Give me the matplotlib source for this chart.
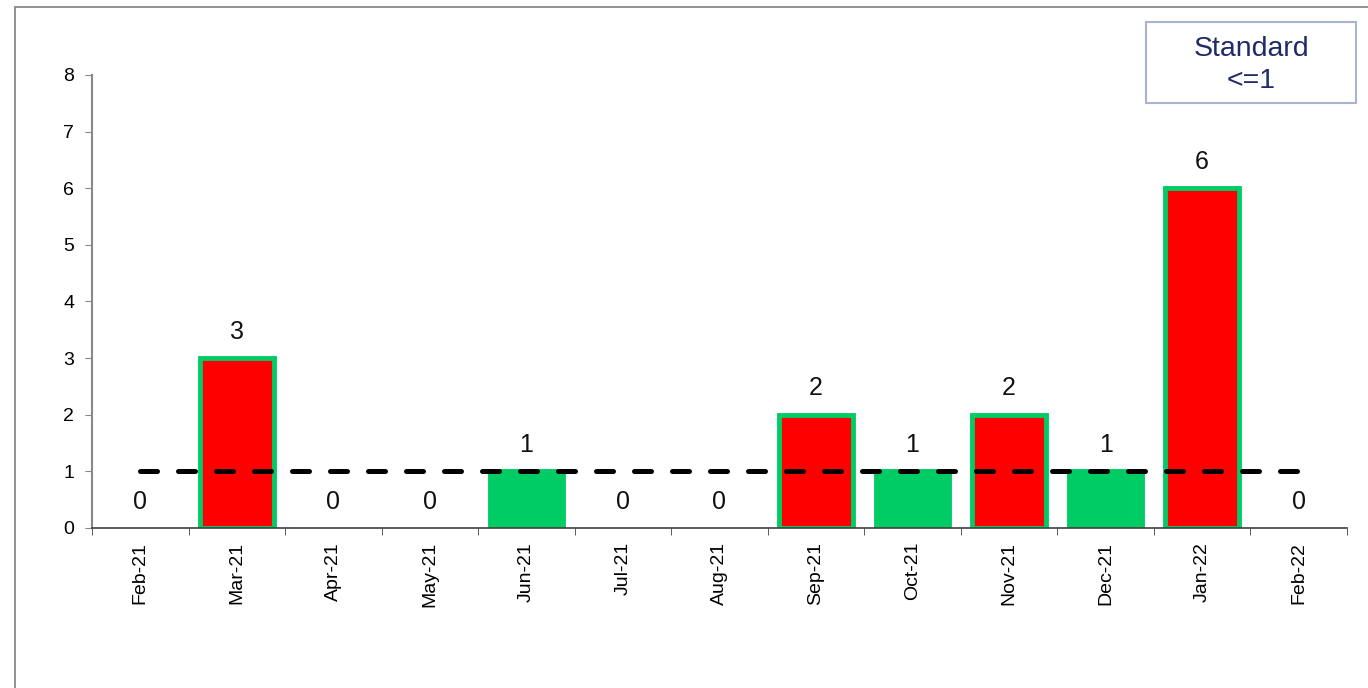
import matplotlib.pyplot as plt
from matplotlib.patches import Rectangle


MONTHS = ["Feb-21", "Mar-21", "Apr-21", "May-21", "Jun-21", "Jul-21", "Aug-21",
          "Sep-21", "Oct-21", "Nov-21", "Dec-21", "Jan-22", "Feb-22"]
COUNTS = [0, 3, 0, 0, 1, 0, 0, 2, 1, 2, 1, 6, 0]
STANDARD = 1

GREEN = "#00CC66"
RED = "#FF0000"

plt.rcParams["font.family"] = ["Liberation Sans", "DejaVu Sans"]


def main() -> None:
    fig = plt.figure(figsize=(13.68, 6.88), dpi=100)
    ax = fig.add_axes([0.0673, 0.2326, 0.9173, 0.6584])

    # outer frame of the pasted chart (cut at right/bottom)
    fig.patches.append(Rectangle((15 / 1368, -0.1), 1.2, 1 - 7 / 688 + 0.1,
                                 transform=fig.transFigure, fill=False,
                                 edgecolor="#7f7f7f", linewidth=1.2))

    x = list(range(len(MONTHS)))
    fills = [RED if v > STANDARD else GREEN for v in COUNTS]
    edges = [3.5 if v > 0 else 0 for v in COUNTS]  # no outline on empty months
    ax.bar(x, COUNTS, width=0.76, color=fills, edgecolor=GREEN,
           linewidth=edges, zorder=2)

    for xi, v in zip(x, COUNTS):
        ax.annotate(str(v), (xi, v), xytext=(0, 19), textcoords="offset points",
                    ha="center", va="center", fontsize=18, color="#111111")

    ax.plot([x[0], x[-1]], [STANDARD, STANDARD], color="black", linewidth=3.6,
            dashes=(3.4, 4.2), dash_capstyle="round", zorder=3)

    ax.set_xlim(-0.5, len(MONTHS) - 0.5)
    ax.set_ylim(0, 8)
    ax.set_yticks(range(0, 9))
    ax.set_xticks(x)
    ax.set_xticklabels(MONTHS, rotation=90, fontsize=14)
    ax.tick_params(axis="x", length=0, pad=10)
    ax.set_xticks([i - 0.5 for i in range(len(MONTHS) + 1)], minor=True)
    ax.tick_params(axis="x", which="minor", length=5, direction="out",
                   color="#404040")
    ax.tick_params(axis="y", length=5, direction="out", color="#888888",
                   labelsize=14, pad=8)

    for side in ("top", "right"):
        ax.spines[side].set_visible(False)
    ax.spines["left"].set_color("#888888")
    ax.spines["left"].set_linewidth(1.5)
    ax.spines["bottom"].set_color("#404040")
    ax.spines["bottom"].set_linewidth(1.2)

    # "Standard" box in the top right corner
    fig.patches.append(Rectangle((1146 / 1368, 1 - 103 / 688), 210 / 1368, 81 / 688,
                                 transform=fig.transFigure, facecolor="white",
                                 edgecolor="#A9B4CE", linewidth=1.5))
    fig.text(1251 / 1368, 1 - 65 / 688, "Standard\n<=1", ha="center", va="center",
             fontsize=20.5, color="#1F2A68", linespacing=1.35)

    fig.savefig("out.png", dpi=100)
    plt.close(fig)


if __name__ == "__main__":
    main()
